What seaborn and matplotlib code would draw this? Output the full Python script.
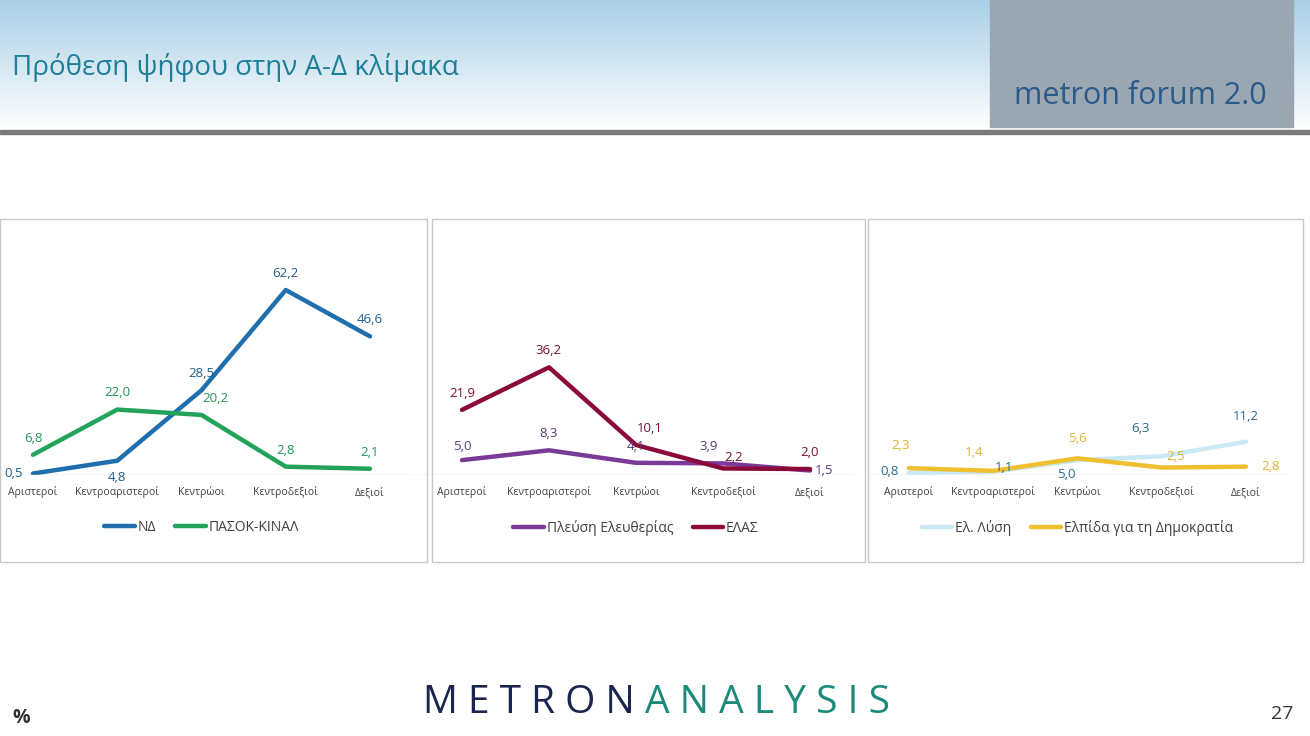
import matplotlib
matplotlib.use("Agg")
import matplotlib.pyplot as plt
import seaborn as sns
import pandas as pd
import numpy as np
from matplotlib.patches import Rectangle

sns.set_theme(style="white")
plt.rcParams['font.family'] = ['Open Sans', 'DejaVu Sans']

categories = ["Αριστεροί", "Κεντροαριστεροί", "Κεντρώοι", "Κεντροδεξιοί", "Δεξιοί"]
nd = [0.5, 4.8, 28.5, 62.2, 46.6]
pasok = [6.8, 22.0, 20.2, 2.8, 2.1]
plefsi = [5.0, 8.3, 4.1, 3.9, 1.5]
elas = [21.9, 36.2, 10.1, 2.2, 2.0]
ellysi = [0.8, 1.1, 5.0, 6.3, 11.2]
elpida = [2.3, 1.4, 5.6, 2.5, 2.8]

W, H = 1310, 736
fig = plt.figure(figsize=(W/100, H/100), dpi=100)

hax = fig.add_axes([0, 1-130/H, 1, 130/H])
grad = np.linspace(0, 1, 256).reshape(-1, 1)
hax.imshow(grad, aspect='auto', cmap=matplotlib.colors.LinearSegmentedColormap.from_list('g', ['#a9cfe6', '#ffffff']), extent=[0, 1, 0, 1])
hax.axis('off')
fig.patches.append(Rectangle((0, 1-134/H), 1, 4/H, transform=fig.transFigure, color='#7a7a7a'))
fig.text(12/W, 1-68/H, "Πρόθεση ψήφου στην Α-Δ κλίμακα", fontsize=20, color='#1f7f99', va='center')
fig.patches.append(Rectangle((990/W, 1-127/H), 303/W, 127/H, transform=fig.transFigure, color='#9aa7b3'))
fig.text(1140/W, 1-96/H, "metron forum 2.0", fontsize=22, color='#2a5a8a', ha='center', va='center')

panels = [
    (0, 427, 33, 370, [("ΝΔ", nd, '#1f6fae', '#1f5f8f'), ("ΠΑΣΟΚ-ΚΙΝΑΛ", pasok, '#22a35a', '#22935a')],
     [[(-14, 0), (0, -12), (0, 12), (0, 12), (0, 12)], [(0, 12), (0, 12), (10, 12), (0, 12), (0, 12)]]),
    (432, 865, 462, 810, [("Πλεύση Ελευθερίας", plefsi, '#7a3a98', '#5a3a7a'), ("ΕΛΑΣ", elas, '#8b0a3a', '#7a1030')],
     [[(0, 10), (0, 12), (0, 12), (-10, 12), (10, 0)], [(0, 12), (0, 12), (10, 12), (8, 8), (0, 12)]]),
    (868, 1303, 909, 1246, [("Ελ. Λύση", ellysi, '#c9e9f4', '#2a6a90'), ("Ελπίδα για τη Δημοκρατία", elpida, '#efbf30', '#e0b030')],
     [[(-14, 1), (8, 3), (-8, -10), (-15, 20), (0, 18)], [(-6, 16), (-14, 13), (0, 14), (10, 8), (18, 0)]]),
]

y0px, ppu = 475, 185/62.2
ylim = (y0px - 255) / ppu
for (px0, px1, cx0, cx1, series, offs) in panels:
    fig.patches.append(Rectangle((px0/W, 1-562/H), (px1-px0)/W, (562-219)/H, transform=fig.transFigure,
                                 fill=False, edgecolor='#c8c8c8', lw=1))
    sp = (cx1-cx0)/4
    left = cx0 - 0.5*sp
    ax = fig.add_axes([left/W, 1-y0px/H, 5*sp/W, (y0px-255)/H])
    for (name, vals, col, lcol), off in zip(series, offs):
        df = pd.DataFrame({"x": range(5), "y": vals})
        sns.lineplot(data=df, x="x", y="y", ax=ax, color=col, lw=3.2, label=name)
        for i, v in enumerate(vals):
            ax.annotate(f"{v:.1f}".replace('.', ','), (i, v), xytext=off[i], textcoords='offset points',
                        ha='center', va='center', fontsize=9.5, color=lcol)
    ax.set_xlim(-0.5, 4.5)
    ax.set_ylim(0, ylim)
    ax.axhline(0, color='#d0d0d0', lw=1)
    ax.set_xticks(range(5))
    ax.set_xticklabels(categories, fontsize=7.5, color='#404040')
    ax.set_yticks([])
    ax.set_xlabel(""); ax.set_ylabel("")
    ax.tick_params(axis='x', length=0, pad=8)
    for s in ax.spines.values():
        s.set_visible(False)
    ax.patch.set_alpha(0)
    leg = ax.legend(loc='center', bbox_to_anchor=(0.5, -0.24), ncol=2, frameon=False, fontsize=10,
                    handlelength=2.2, columnspacing=1.4, handletextpad=0.2)
    for t in leg.get_texts():
        t.set_color('#404040')

fig.text(645/W, 1-703/H, "M E T R O N ", fontsize=28, color='#1a2550', ha='right', va='center')
fig.text(645/W, 1-703/H, "A N A L Y S I S", fontsize=28, color='#1a8a7a', ha='left', va='center')
fig.text(12/W, 1-718/H, "%", fontsize=14, color='#333333', va='center', fontweight='bold')
fig.text(1282/W, 1-714/H, "27", fontsize=14, color='#333333', ha='center', va='center')

fig.savefig("out.png", dpi=100)
